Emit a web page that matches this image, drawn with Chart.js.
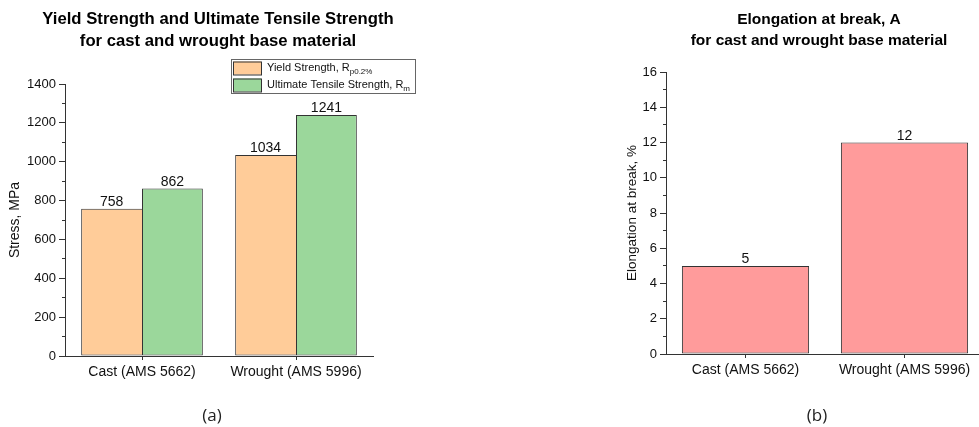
<!DOCTYPE html>
<html>
<head>
<meta charset="utf-8">
<script src="https://cdn.jsdelivr.net/npm/chart.js@4/dist/chart.umd.min.js"></script>
<style>
  html, body { margin: 0; padding: 0; background: #fff; overflow: hidden; width: 979px; height: 427px; }
  #wrapA { position: absolute; left: 0; top: 0; width: 440px; height: 427px; }
  #wrapB { position: absolute; left: 610px; top: 0; width: 380px; height: 427px; }
  .cap { position: absolute; top: 403px; font-family: "Open Sans", "Noto Sans", sans-serif; font-size: 17px; color: #222; transform: translateX(-50%); }
</style>
</head>
<body>
<div id="wrapA"><canvas id="chartA" width="440" height="427"></canvas></div>
<div id="wrapB"><canvas id="chartB" width="380" height="427"></canvas></div>
<div class="cap" style="left:212px;">(a)</div>
<div class="cap" style="left:817px;">(b)</div>
<script>
// ---------------- data ----------------
const categories = ['Cast (AMS 5662)', 'Wrought (AMS 5996)'];
const seriesNames = ['Yield Strength, R', 'Ultimate Tensile Strength, R'];
const seriesSubscripts = ['p0.2%', 'm'];
const yieldStrength = [758, 1034];
const tensileStrength = [862, 1241];
const elongation = [5, 12];
const stressTicks = [0, 200, 400, 600, 800, 1000, 1200, 1400];
const elongationTicks = [0, 2, 4, 6, 8, 10, 12, 14, 16];
const titleA = ['Yield Strength and Ultimate Tensile Strength', 'for cast and wrought base material'];
const titleB = ['Elongation at break, A', 'for cast and wrought base material'];
const yTitleA = 'Stress, MPa';
const yTitleB = 'Elongation at break, %';

// ---------------- styling ----------------
const FONT = '"Liberation Sans", Arial, sans-serif';
const AX = '#333333';
const colPeach = '#FFCC99';
const colGreen = '#9BD79B';
const colPink = '#FF9B9B';

Chart.defaults.font.family = FONT;
Chart.defaults.color = '#111';
Chart.defaults.animation = false;

const valueLabels = {
  id: 'valueLabels',
  afterDatasetsDraw(chart) {
    const ctx = chart.ctx;
    ctx.save();
    ctx.font = '14px ' + FONT;
    ctx.fillStyle = '#111';
    ctx.textAlign = 'center';
    ctx.textBaseline = 'alphabetic';
    chart.data.datasets.forEach((ds, i) => {
      chart.getDatasetMeta(i).data.forEach((bar, j) => {
        ctx.fillText(String(ds.data[j]), bar.x, bar.y - 3);
      });
    });
    ctx.restore();
  }
};

// two-line chart title, centred at a chosen x (not limited to chart-area width)
const wideTitle = {
  id: 'wideTitle',
  afterDraw(chart, args, o) {
    const ctx = chart.ctx;
    ctx.save();
    ctx.font = 'bold ' + o.size + 'px ' + FONT;
    ctx.fillStyle = '#000';
    ctx.textAlign = 'center';
    ctx.textBaseline = 'middle';
    o.text.forEach((line, i) => ctx.fillText(line, o.cx, o.y + i * o.lh));
    ctx.restore();
  }
};

const boxLegend = {
  id: 'boxLegend',
  afterDraw(chart, args, opts) {
    const ctx = chart.ctx;
    const x = opts.x, y = opts.y, w = opts.w, h = opts.h;
    ctx.save();
    ctx.fillStyle = '#fff';
    ctx.fillRect(x, y, w, h);
    ctx.strokeStyle = '#666';
    ctx.lineWidth = 1;
    ctx.strokeRect(x + 0.5, y + 0.5, w, h);
    chart.data.datasets.forEach((ds, i) => {
      const cy = y + 9 + i * 17;
      ctx.fillStyle = ds.backgroundColor;
      ctx.fillRect(x + 2, cy - 6.5, 28, 13);
      ctx.strokeStyle = AX;
      ctx.strokeRect(x + 2.5, cy - 6, 28, 13);
      ctx.fillStyle = '#111';
      ctx.textBaseline = 'middle';
      ctx.textAlign = 'left';
      ctx.font = '11px ' + FONT;
      ctx.fillText(ds.label, x + 36, cy);
      const tw = ctx.measureText(ds.label).width;
      ctx.font = '8px ' + FONT;
      ctx.fillText(seriesSubscripts[i], x + 36 + tw, cy + 4);
    });
    ctx.restore();
  }
};

function makeOptions(ticks, yTitle, yTitleSize, yTitlePad, padTop, yWidth, xHeight, padRight) {
  const step = ticks[1] - ticks[0];
  return {
    responsive: false,
    animation: false,
    devicePixelRatio: 1,
    layout: { padding: { left: 0, right: padRight, top: padTop, bottom: 0 } },
    plugins: {
      legend: { display: false },
      tooltip: { enabled: false },
      title: { display: false }
    },
    scales: {
      x: {
        grid: { display: true, offset: false, drawOnChartArea: false, drawTicks: true, tickLength: 4, color: AX, lineWidth: 1 },
        border: { display: true, color: AX, width: 1 },
        ticks: { font: { family: FONT, size: 14 }, color: '#111', padding: 4, maxRotation: 0 },
        afterFit(s) { s.height = xHeight; }
      },
      y: {
        position: 'left', weight: 1,
        min: ticks[0], max: ticks[ticks.length - 1],
        grid: { drawOnChartArea: false, drawTicks: true, tickLength: 6, color: AX, lineWidth: 1 },
        border: { display: true, color: AX, width: 1 },
        ticks: { stepSize: step, font: { family: FONT, size: 13 }, color: '#111', padding: 3, callback: (v) => String(v) },
        title: { display: true, text: yTitle, font: { family: FONT, size: yTitleSize }, color: '#111', padding: { top: yTitlePad, bottom: 0 } },
        afterFit(s) { s.width = yWidth; }
      },
      yMinor: {
        position: 'left', weight: 0,
        min: ticks[0], max: ticks[ticks.length - 1],
        grid: { drawOnChartArea: false, drawTicks: true, tickLength: 3, color: AX, lineWidth: 1 },
        border: { display: false },
        ticks: { stepSize: step / 2, display: false },
        afterFit(s) { s.width = 0; }
      }
    }
  };
}

const optsA = makeOptions(stressTicks, yTitleA, 14, 7, 84, 65, 71, 67);
optsA.plugins.boxLegend = { x: 231, y: 59, w: 184, h: 34 };
optsA.plugins.wideTitle = { text: titleA, size: 16.7, cx: 218, y: 19, lh: 22 };

new Chart(document.getElementById('chartA'), {
  type: 'bar',
  data: {
    labels: categories,
    datasets: [
      { label: seriesNames[0], data: yieldStrength, backgroundColor: colPeach, borderColor: AX, borderWidth: 1, borderSkipped: 'right', categoryPercentage: 0.79, barPercentage: 1.0 },
      { label: seriesNames[1], data: tensileStrength, backgroundColor: colGreen, borderColor: AX, borderWidth: 1, borderSkipped: false, categoryPercentage: 0.79, barPercentage: 1.0 }
    ]
  },
  options: optsA,
  plugins: [valueLabels, boxLegend, wideTitle]
});

const optsB = makeOptions(elongationTicks, yTitleB, 13.5, 14, 72, 56, 73, 6);
optsB.plugins.wideTitle = { text: titleB, size: 15.5, cx: 819 - 610, y: 19.5, lh: 21 };

new Chart(document.getElementById('chartB'), {
  type: 'bar',
  data: {
    labels: categories,
    datasets: [
      { label: 'Elongation at break', data: elongation, backgroundColor: colPink, borderColor: AX, borderWidth: 1, borderSkipped: false, categoryPercentage: 0.8, barPercentage: 1.0 }
    ]
  },
  options: optsB,
  plugins: [valueLabels, wideTitle]
});
</script>
</body>
</html>
